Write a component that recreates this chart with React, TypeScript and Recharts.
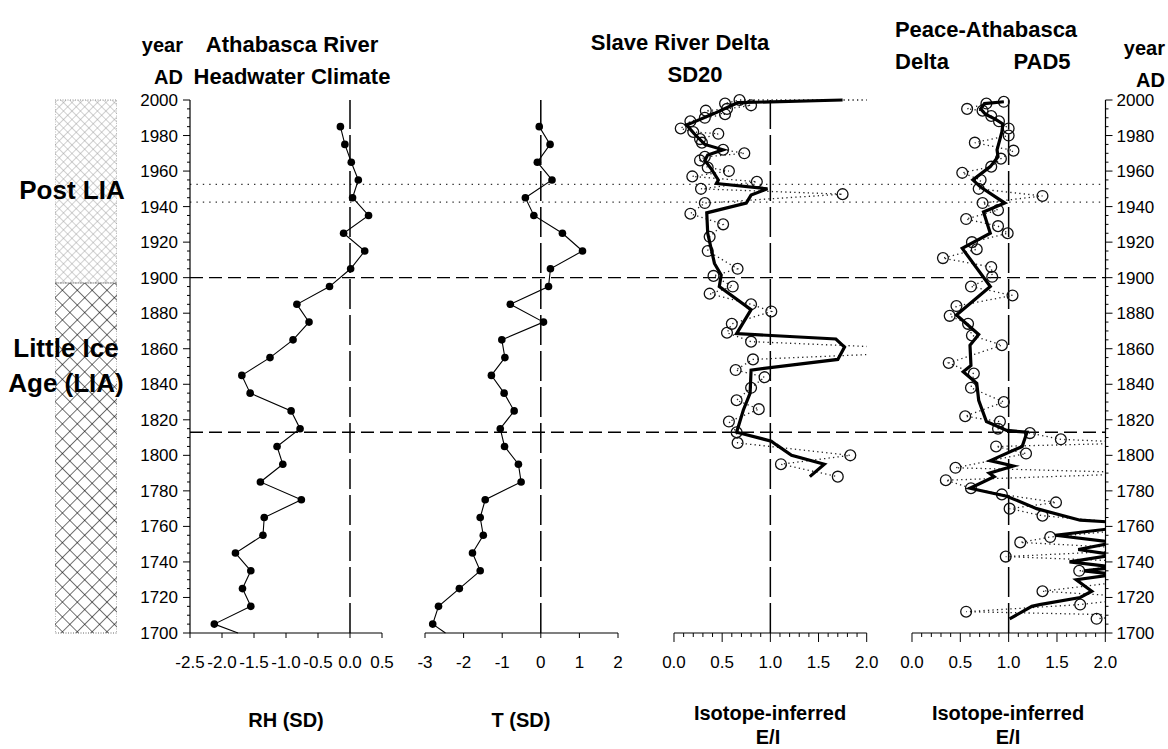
import React from 'react';
import { ScatterChart, Scatter, XAxis, YAxis, ReferenceLine, ReferenceArea } from 'recharts';

const FONT = '"Liberation Sans", Arial, Helvetica, sans-serif';
const PAGE_W = 1168;
const PAGE_H = 749;
const Y_TOP = 100; // pixel row of year 2000
const Y_BOT = 633; // pixel row of year 1700
const YEAR_MIN = 1700;
const YEAR_MAX = 2000;
const PX_PER_YEAR = (Y_BOT - Y_TOP) / (YEAR_MAX - YEAR_MIN);
const PAD_YEARS = 4;

// ---------- tick labels ----------
const yearLabels = [1700, 1720, 1740, 1760, 1780, 1800, 1820, 1840, 1860, 1880, 1900, 1920, 1940, 1960, 1980, 2000];
const yearMinorStep = 5;
const rhTicks = [-2.5, -2.0, -1.5, -1.0, -0.5, 0.0, 0.5];
const tTicks = [-3, -2, -1, 0, 1, 2];
const eiTicks = [0, 0.1, 0.2, 0.3, 0.4, 0.5, 0.6, 0.7, 0.8, 0.9, 1.0, 1.1, 1.2, 1.3, 1.4, 1.5, 1.6, 1.7, 1.8, 1.9, 2.0];

// ---------- period boundaries ----------
const liaEnd = 1897;
const dashedYears = [1900, 1813];
const dottedYears = [1952.5, 1942.5];

// ---------- Athabasca headwater climate ----------
const climateYears = [1985, 1975, 1965, 1955, 1945, 1935, 1925, 1915, 1905, 1895, 1885, 1875, 1865, 1855, 1845, 1835, 1825, 1815, 1805, 1795, 1785, 1775, 1765, 1755, 1745, 1735, 1725, 1715, 1705, 1700];
const rhValues = [-0.15, -0.08, 0.02, 0.13, 0.04, 0.29, -0.10, 0.23, 0.01, -0.32, -0.83, -0.64, -0.89, -1.25, -1.69, -1.56, -0.92, -0.78, -1.14, -1.05, -1.40, -0.76, -1.34, -1.36, -1.79, -1.55, -1.68, -1.55, -2.12, -1.75];
const tValues = [-0.04, 0.24, -0.09, 0.29, -0.40, -0.18, 0.56, 1.08, 0.25, 0.20, -0.79, 0.07, -1.01, -0.93, -1.28, -0.95, -0.69, -1.05, -0.94, -0.58, -0.51, -1.44, -1.57, -1.49, -1.77, -1.57, -2.11, -2.65, -2.80, -2.47];
const climateDotCount = 29; // last entry continues the line without a marker

// ---------- Slave River Delta SD20 ----------
const sd20RawYears = [2000, 2000, 1998, 1997, 1995, 1994, 1992, 1990, 1988, 1984, 1982, 1981, 1978, 1976, 1972, 1970, 1968, 1966, 1962, 1960, 1957, 1954, 1950, 1947, 1942, 1936, 1930, 1923, 1915, 1905, 1901, 1895, 1891, 1885, 1881, 1874, 1869, 1864, 1859, 1854, 1848, 1844, 1838, 1831, 1826, 1819, 1813, 1807, 1800, 1795, 1788];
const sd20RawValues = [2.8, 0.68, 0.53, 0.80, 0.55, 0.33, 0.53, 0.32, 0.17, 0.07, 0.20, 0.46, 0.27, 0.29, 0.51, 0.73, 0.32, 0.27, 0.35, 0.57, 0.19, 0.86, 0.28, 1.75, 0.32, 0.17, 0.51, 0.37, 0.35, 0.66, 0.41, 0.61, 0.37, 0.80, 1.01, 0.60, 0.55, 0.80, 3.0, 0.82, 0.64, 0.94, 0.80, 0.65, 0.88, 0.57, 0.65, 0.66, 1.83, 1.11, 1.70];
const sd20SmoothYears = [2000, 1998.5, 1992.5, 1987, 1986, 1981, 1975, 1972, 1969, 1966, 1961, 1955, 1953, 1950, 1946.5, 1942, 1936.5, 1925, 1908, 1901.5, 1895, 1882, 1868.5, 1865.5, 1861, 1854, 1848, 1835, 1825.5, 1813, 1808, 1806, 1800, 1795, 1788];
const sd20SmoothValues = [1.75, 0.66, 0.42, 0.18, 0.13, 0.21, 0.32, 0.51, 0.35, 0.32, 0.39, 0.46, 0.44, 0.97, 0.80, 0.75, 0.34, 0.35, 0.42, 0.49, 0.47, 0.80, 0.65, 1.68, 1.77, 1.70, 0.80, 0.79, 0.72, 0.65, 1.01, 1.06, 1.22, 1.56, 1.41];

// ---------- Peace-Athabasca Delta PAD5 ----------
const pad5RawYears = [1999, 1998, 1995, 1994, 1991, 1988, 1984, 1980, 1976, 1971.5, 1967, 1962.5, 1959, 1955, 1950, 1946, 1942, 1938, 1933, 1929, 1925, 1920, 1916, 1911, 1906, 1900.5, 1895, 1890, 1884, 1878.5, 1874, 1867.5, 1862, 1852, 1846, 1838, 1830, 1822, 1819, 1815, 1812.5, 1809, 1807, 1805, 1801, 1793, 1790, 1786, 1781.5, 1778, 1773.5, 1770, 1766, 1760, 1754, 1751, 1747, 1743, 1740, 1735, 1731, 1723.5, 1720, 1716, 1712, 1710, 1708];
const pad5RawValues = [0.95, 0.77, 0.57, 0.73, 0.82, 0.90, 1.00, 1.00, 0.65, 1.05, 0.92, 0.82, 0.52, 0.71, 0.69, 1.35, 0.73, 0.89, 0.56, 0.89, 0.99, 0.62, 0.67, 0.32, 0.82, 0.83, 0.61, 1.04, 0.46, 0.39, 0.58, 0.62, 0.93, 0.38, 0.64, 0.61, 0.95, 0.55, 0.91, 0.89, 1.22, 1.54, 2.4, 0.87, 1.18, 0.45, 2.5, 0.35, 0.61, 0.93, 1.49, 1.01, 1.35, 2.6, 1.43, 1.12, 2.5, 0.97, 2.4, 1.73, 2.5, 1.35, 2.4, 1.74, 0.56, 2.3, 1.91];
const pad5SmoothYears = [1999, 1998, 1995, 1992, 1989, 1986.5, 1982, 1972, 1968, 1962.5, 1955, 1951, 1942, 1937, 1925, 1916.5, 1895, 1879, 1868, 1862, 1850.5, 1847, 1840.5, 1831, 1819, 1814, 1813, 1805, 1797, 1794, 1790, 1788, 1781.5, 1777, 1770, 1763.5, 1762, 1759, 1755, 1751, 1747, 1744, 1740, 1737, 1735, 1733, 1730, 1723.5, 1720, 1716, 1715, 1708];
const pad5SmoothValues = [0.95, 0.75, 0.71, 0.76, 0.87, 0.94, 0.93, 0.88, 0.89, 0.81, 0.63, 0.71, 0.96, 0.74, 0.81, 0.52, 0.81, 0.46, 0.69, 0.60, 0.61, 0.53, 0.67, 0.69, 0.77, 0.98, 1.19, 1.14, 0.81, 1.05, 0.80, 0.85, 0.60, 0.98, 1.29, 1.74, 2.2, 2.1, 1.48, 2.1, 1.72, 2.1, 1.63, 2.1, 1.78, 2.1, 1.70, 1.86, 1.74, 1.32, 1.24, 1.01];

type Pt = { year: number; v: number };
const toPts = (years: number[], vals: number[]): Pt[] => years.map((y, i) => ({ year: y, v: vals[i] }));

const rhLine = toPts(climateYears, rhValues);
const rhDots = rhLine.slice(0, climateDotCount);
const tLine = toPts(climateYears, tValues);
const tDots = tLine.slice(0, climateDotCount);
const sd20Raw = toPts(sd20RawYears, sd20RawValues);
const sd20Smooth = toPts(sd20SmoothYears, sd20SmoothValues);
const pad5Raw = toPts(pad5RawYears, pad5RawValues);
const pad5Smooth = toPts(pad5SmoothYears, pad5SmoothValues);

const yearTicks: number[] = [];
for (let y = YEAR_MIN; y <= YEAR_MAX; y += yearMinorStep) yearTicks.push(y);

const TICK_FONT = 17;

// ---------- shapes ----------
const emptyShape = () => <g />;
const filledDot = (p: any) => <circle cx={p.cx} cy={p.cy} r={3.8} fill="#000" />;
const openCircle = (p: any) => (
  <circle cx={p.cx} cy={p.cy} r={5.4} fill="none" stroke="#111" strokeWidth={1.3} />
);

// ---------- text helper ----------
function Txt(props: { x: number; y: number; text: string; size?: number; bold?: boolean; align?: 'center' | 'right' | 'left' }) {
  const { x, y, text, size = 20, bold = true, align = 'center' } = props;
  const tx = align === 'center' ? '-50%' : align === 'right' ? '-100%' : '0';
  return (
    <div
      style={{
        position: 'absolute',
        left: x,
        top: y,
        transform: `translate(${tx}, -50%)`,
        fontFamily: FONT,
        fontSize: size,
        fontWeight: bold ? 700 : 400,
        whiteSpace: 'nowrap',
        color: '#000',
        lineHeight: 1,
      }}
    >
      {text}
    </div>
  );
}

// ---------- panel ----------
type PanelProps = {
  x0: number;
  x1: number;
  domain: [number, number];
  ticks: number[];
  isMajor: (v: number) => boolean;
  fmt: (v: number) => string;
  refX: number;
  majorLen: number;
  minorLen: number;
  children: React.ReactNode;
};

function Panel(p: PanelProps) {
  const PAD = 30;
  const w = p.x1 - p.x0 + 2 * PAD;
  const axisH = 60;
  const Tick = (props: any) => {
    const { x, y, payload } = props;
    const v = payload.value;
    const major = p.isMajor(v);
    return (
      <g>
        <line x1={x} x2={x} y1={y} y2={y + (major ? p.majorLen : p.minorLen)} stroke="#000" strokeWidth={1} />
        {major && (
          <text x={x} y={y + 35} textAnchor="middle" fontSize={TICK_FONT} fontFamily={FONT} fill="#000">
            {p.fmt(v)}
          </text>
        )}
      </g>
    );
  };
  const padPx = PAD_YEARS * PX_PER_YEAR;
  return (
    <>
      <div style={{ position: 'absolute', left: p.x0 - PAD, top: 0 }}>
        <ScatterChart width={w} height={PAGE_H} margin={{ top: Y_TOP, bottom: PAGE_H - Y_BOT - axisH, left: PAD, right: PAD }}>
          <XAxis
            type="number"
            dataKey="v"
            domain={p.domain}
            ticks={p.ticks}
            interval={0}
            tick={<Tick />}
            tickLine={false}
            tickSize={0}
            tickMargin={0}
            axisLine={{ stroke: '#000', strokeWidth: 1.2 }}
            height={axisH}
            allowDataOverflow
          />
          <YAxis type="number" dataKey="year" domain={[YEAR_MIN, YEAR_MAX]} hide allowDataOverflow />
          <ReferenceLine x={p.refX} stroke="#000" strokeWidth={1.5} strokeDasharray="30 6" />
          <Scatter data={[]} isAnimationActive={false} />
        </ScatterChart>
      </div>
      <div style={{ position: 'absolute', left: p.x0 - PAD, top: 0 }}>
        <ScatterChart
          width={w}
          height={PAGE_H}
          margin={{ top: Y_TOP - padPx, bottom: PAGE_H - Y_BOT - padPx, left: PAD, right: PAD }}
        >
          <XAxis type="number" dataKey="v" domain={p.domain} hide allowDataOverflow />
          <YAxis type="number" dataKey="year" domain={[YEAR_MIN - PAD_YEARS, YEAR_MAX + PAD_YEARS]} hide allowDataOverflow />
          {p.children}
        </ScatterChart>
      </div>
    </>
  );
}

// ---------- background: year axes and period lines ----------
function Background() {
  const YW = 60;
  const LeftTick = (props: any) => {
    const { x, y, payload } = props;
    const v = payload.value;
    const major = yearLabels.includes(v);
    return (
      <g>
        <line x1={x - (major ? 7 : 3)} x2={x} y1={y} y2={y} stroke="#000" strokeWidth={1} />
        {major && (
          <text x={x - 12} y={y} dy={6} textAnchor="end" fontSize={TICK_FONT} fontFamily={FONT} fill="#000">
            {v}
          </text>
        )}
      </g>
    );
  };
  const RightTick = (props: any) => {
    const { x, y, payload } = props;
    const v = payload.value;
    const major = yearLabels.includes(v);
    return (
      <g>
        <line x1={x} x2={x + (major ? 7 : 3)} y1={y} y2={y} stroke="#000" strokeWidth={1} />
        {major && (
          <text x={x + 11} y={y} dy={6} textAnchor="start" fontSize={TICK_FONT} fontFamily={FONT} fill="#000">
            {v}
          </text>
        )}
      </g>
    );
  };
  return (
    <div style={{ position: 'absolute', left: 0, top: 0 }}>
      <ScatterChart
        width={PAGE_W}
        height={PAGE_H}
        margin={{ top: Y_TOP, bottom: PAGE_H - Y_BOT, left: 190 - YW, right: PAGE_W - 1105.5 - YW }}
      >
        <XAxis type="number" dataKey="v" domain={[0, 1]} hide allowDataOverflow />
        <YAxis
          yAxisId="left"
          type="number"
          dataKey="year"
          domain={[YEAR_MIN, YEAR_MAX]}
          allowDataOverflow
          ticks={yearTicks}
          interval={0}
          width={YW}
          tick={<LeftTick />}
          tickLine={false}
          tickSize={0}
          tickMargin={0}
          axisLine={{ stroke: '#000', strokeWidth: 1.2 }}
        />
        <YAxis
          yAxisId="right"
          orientation="right"
          type="number"
          dataKey="year"
          domain={[YEAR_MIN, YEAR_MAX]}
          allowDataOverflow
          ticks={yearTicks}
          interval={0}
          width={YW}
          tick={<RightTick />}
          tickLine={false}
          tickSize={0}
          tickMargin={0}
          axisLine={{ stroke: '#000', strokeWidth: 1.2 }}
        />
        {dashedYears.map((y) => (
          <ReferenceLine key={'d' + y} yAxisId="left" y={y} stroke="#000" strokeWidth={1.4} strokeDasharray="13 6" />
        ))}
        {dottedYears.map((y) => (
          <ReferenceLine key={'o' + y} yAxisId="left" y={y} stroke="#333" strokeWidth={1.4} strokeDasharray="1.4 5" />
        ))}
        <Scatter yAxisId="left" data={[]} isAnimationActive={false} />
        <Scatter yAxisId="right" data={[]} isAnimationActive={false} />
      </ScatterChart>
    </div>
  );
}

// ---------- period bar ----------
function PeriodBar() {
  return (
    <div style={{ position: 'absolute', left: 55, top: 0 }}>
      <ScatterChart width={62} height={PAGE_H} margin={{ top: Y_TOP, bottom: PAGE_H - Y_BOT, left: 0, right: 0 }}>
        <XAxis type="number" dataKey="v" domain={[0, 1]} hide allowDataOverflow />
        <YAxis type="number" dataKey="year" domain={[YEAR_MIN, YEAR_MAX]} hide allowDataOverflow />
        <ReferenceArea x1={0} x2={1} y1={liaEnd} y2={YEAR_MAX} fill="url(#postLiaPat)" fillOpacity={1} stroke="#888" strokeWidth={1} strokeDasharray="1 1.5" />
        <ReferenceArea x1={0} x2={1} y1={YEAR_MIN} y2={liaEnd} fill="url(#liaPat)" fillOpacity={1} stroke="#666" strokeWidth={1} strokeDasharray="1 1.5" />
        <Scatter data={[]} isAnimationActive={false} />
      </ScatterChart>
    </div>
  );
}

const isHalf = (v: number) => Math.abs(v * 2 - Math.round(v * 2)) < 1e-6;

export default function App() {
  return (
    <div style={{ position: 'absolute', left: 0, top: 0, width: PAGE_W, height: PAGE_H, background: '#fff', overflow: 'hidden' }}>
      <svg width={0} height={0} style={{ position: 'absolute' }}>
        <defs>
          <pattern id="liaPat" width={10.5} height={10.5} patternUnits="userSpaceOnUse" patternTransform="rotate(45)">
            <line x1={0} y1={0} x2={0} y2={10.5} stroke="#000" strokeWidth={1.1} />
            <line x1={0} y1={0} x2={10.5} y2={0} stroke="#000" strokeWidth={1.1} />
          </pattern>
          <pattern id="postLiaPat" width={6} height={6} patternUnits="userSpaceOnUse" patternTransform="rotate(45)">
            <line x1={0} y1={0} x2={0} y2={6} stroke="#999" strokeWidth={0.9} />
            <line x1={0} y1={0} x2={6} y2={0} stroke="#999" strokeWidth={0.9} />
          </pattern>
        </defs>
      </svg>

      <Background />
      <PeriodBar />

      <Panel x0={190} x1={382} domain={[-2.5, 0.5]} ticks={rhTicks} isMajor={() => true} fmt={(v) => v.toFixed(1)} refX={0} majorLen={5} minorLen={5}>
        <Scatter data={rhLine} line={{ stroke: '#000', strokeWidth: 1.1 }} shape={emptyShape} isAnimationActive={false} />
        <Scatter data={rhDots} shape={filledDot} isAnimationActive={false} />
      </Panel>

      <Panel x0={424.7} x1={617.7} domain={[-3, 2]} ticks={tTicks} isMajor={() => true} fmt={(v) => String(v)} refX={0} majorLen={5} minorLen={5}>
        <Scatter data={tLine} line={{ stroke: '#000', strokeWidth: 1.1 }} shape={emptyShape} isAnimationActive={false} />
        <Scatter data={tDots} shape={filledDot} isAnimationActive={false} />
      </Panel>

      <Panel x0={674.3} x1={867} domain={[0, 2]} ticks={eiTicks} isMajor={isHalf} fmt={(v) => v.toFixed(1)} refX={1} majorLen={9} minorLen={4}>
        <Scatter data={sd20Raw} line={{ stroke: '#222', strokeWidth: 1.3, strokeDasharray: '1.3 3.2' }} shape={openCircle} isAnimationActive={false} />
        <Scatter data={sd20Smooth} line={{ stroke: '#000', strokeWidth: 3.2 }} shape={emptyShape} isAnimationActive={false} />
      </Panel>

      <Panel x0={911.7} x1={1105} domain={[0, 2]} ticks={eiTicks} isMajor={isHalf} fmt={(v) => v.toFixed(1)} refX={1} majorLen={9} minorLen={4}>
        <Scatter data={pad5Raw} line={{ stroke: '#222', strokeWidth: 1.3, strokeDasharray: '1.3 3.2' }} shape={openCircle} isAnimationActive={false} />
        <Scatter data={pad5Smooth} line={{ stroke: '#000', strokeWidth: 3.2 }} shape={emptyShape} isAnimationActive={false} />
      </Panel>

      {/* headers */}
      <Txt x={183} y={45} text="year" size={20} align="right" />
      <Txt x={183} y={77} text="AD" size={20} align="right" />
      <Txt x={292} y={45} text="Athabasca River" size={22} />
      <Txt x={292} y={77} text="Headwater Climate" size={22} />
      <Txt x={680} y={43} text="Slave River Delta" size={22} />
      <Txt x={695} y={75} text="SD20" size={22} />
      <Txt x={986} y={30} text="Peace-Athabasca" size={22} />
      <Txt x={922} y={62} text="Delta" size={22} />
      <Txt x={1042} y={62} text="PAD5" size={22} />
      <Txt x={1165} y={48} text="year" size={20} align="right" />
      <Txt x={1165} y={80} text="AD" size={20} align="right" />

      {/* period labels */}
      <Txt x={72} y={190} text="Post LIA" size={26} />
      <Txt x={66} y={348} text="Little Ice" size={26} />
      <Txt x={66} y={383} text="Age (LIA)" size={26} />

      {/* axis titles */}
      <Txt x={286} y={720} text="RH (SD)" size={20} />
      <Txt x={521} y={720} text="T (SD)" size={20} />
      <Txt x={770} y={713} text="Isotope-inferred" size={20} />
      <Txt x={768} y={737} text="E/I" size={20} />
      <Txt x={1008} y={713} text="Isotope-inferred" size={20} />
      <Txt x={1008} y={737} text="E/I" size={20} />
    </div>
  );
}
